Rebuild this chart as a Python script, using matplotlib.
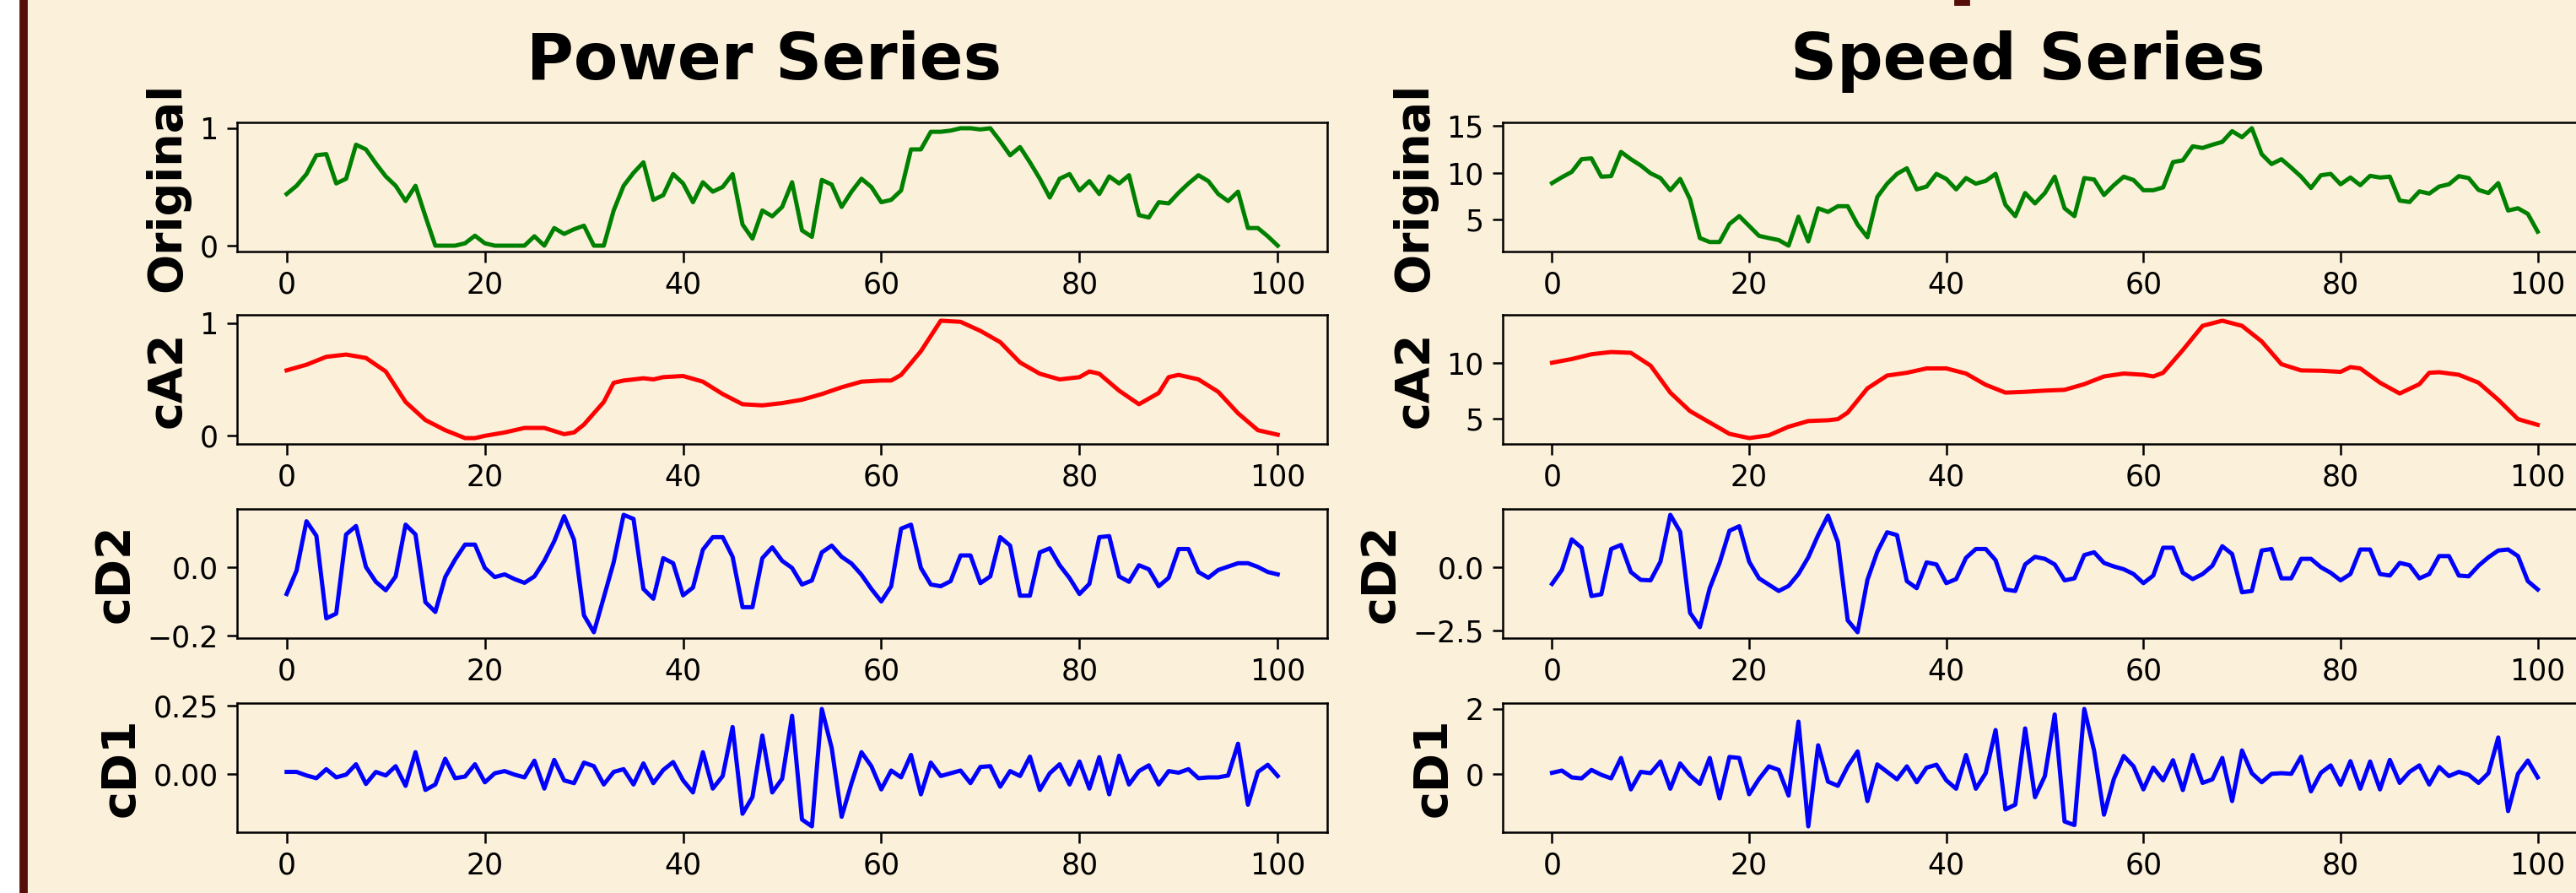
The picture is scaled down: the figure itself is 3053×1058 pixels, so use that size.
#### Wavelet decomposition panels: Power and Speed series
### Original signal, level-2 approximation (cA2) and detail coefficients (cD2, cD1)

## Import Libraries
import matplotlib
matplotlib.use("Agg") # No display in the sandbox
import matplotlib.pyplot as plt
from matplotlib.patches import Rectangle

#### Section A: Data

## Sample index shared by the original and detail series
idx = list(range(101))

## Power series (normalised 0-1)
power_orig = [0.44, 0.51, 0.61, 0.77, 0.78, 0.53, 0.57, 0.86, 0.82, 0.70,
              0.59, 0.51, 0.38, 0.51, 0.25, 0.0, 0.0, 0.0, 0.02, 0.085,
              0.02, 0.0, 0.0, 0.0, 0.0, 0.08, 0.0, 0.15, 0.10, 0.14,
              0.17, 0.0, 0.0, 0.30, 0.51, 0.62, 0.71, 0.39, 0.43, 0.61,
              0.53, 0.37, 0.54, 0.46, 0.50, 0.61, 0.18, 0.06, 0.30, 0.25,
              0.33, 0.54, 0.13, 0.075, 0.56, 0.52, 0.33, 0.46, 0.57, 0.50,
              0.37, 0.39, 0.47, 0.82, 0.82, 0.97, 0.97, 0.98, 1.0, 1.0,
              0.99, 1.0, 0.89, 0.77, 0.84, 0.71, 0.57, 0.41, 0.57, 0.61,
              0.47, 0.55, 0.44, 0.59, 0.53, 0.60, 0.26, 0.24, 0.37, 0.36,
              0.45, 0.53, 0.60, 0.55, 0.44, 0.38, 0.46, 0.15, 0.15, 0.08,
              0.0]

power_ca2_x = [0, 2, 4, 6, 8, 10, 12, 14, 16, 18,
               19, 20, 22, 24, 26, 28, 29, 30, 32, 33,
               34, 36, 37, 38, 40, 42, 44, 46, 48, 50,
               52, 54, 56, 58, 60, 61, 62, 64, 66, 68,
               70, 72, 74, 76, 78, 80, 81, 82, 84, 86,
               88, 89, 90, 92, 94, 96, 98, 100]
power_ca2 = [0.58, 0.63, 0.70, 0.72, 0.69, 0.57, 0.30, 0.14, 0.05, -0.02,
             -0.02, 0.0, 0.03, 0.07, 0.07, 0.015, 0.03, 0.10, 0.30, 0.47,
             0.49, 0.51, 0.50, 0.52, 0.53, 0.48, 0.37, 0.28, 0.27, 0.29,
             0.32, 0.37, 0.43, 0.48, 0.49, 0.49, 0.54, 0.75, 1.02, 1.01,
             0.93, 0.83, 0.65, 0.55, 0.50, 0.52, 0.57, 0.55, 0.40, 0.28,
             0.38, 0.52, 0.54, 0.50, 0.39, 0.20, 0.05, 0.01]

power_cd2 = [-0.078, -0.009, 0.137, 0.094, -0.150, -0.136, 0.098, 0.123, 0.002, -0.042,
             -0.067, -0.026, 0.127, 0.098, -0.102, -0.131, -0.028, 0.024, 0.068, 0.068,
             -0.001, -0.028, -0.020, -0.034, -0.045, -0.026, 0.020, 0.078, 0.152, 0.082,
             -0.141, -0.191, -0.088, 0.016, 0.156, 0.144, -0.063, -0.092, 0.028, 0.013,
             -0.082, -0.059, 0.053, 0.090, 0.090, 0.032, -0.117, -0.117, 0.028, 0.060,
             0.020, -0.001, -0.050, -0.038, 0.045, 0.065, 0.032, 0.012, -0.021, -0.063,
             -0.100, -0.055, 0.115, 0.127, -0.001, -0.050, -0.055, -0.040, 0.036, 0.036,
             -0.046, -0.026, 0.090, 0.065, -0.083, -0.083, 0.045, 0.057, 0.007, -0.031,
             -0.078, -0.048, 0.090, 0.093, -0.026, -0.042, 0.007, -0.005, -0.055, -0.030,
             0.055, 0.055, -0.013, -0.030, -0.007, 0.003, 0.013, 0.013, 0.002, -0.013,
             -0.020]

power_cd1 = [0.008, 0.008, -0.005, -0.015, 0.018, -0.012, -0.002, 0.036, -0.036, 0.008,
             -0.005, 0.029, -0.043, 0.080, -0.058, -0.038, 0.056, -0.015, -0.009, 0.036,
             -0.030, 0.003, 0.011, -0.002, -0.012, 0.049, -0.053, 0.052, -0.023, -0.033,
             0.042, 0.029, -0.038, 0.008, 0.018, -0.038, 0.039, -0.033, 0.015, 0.044,
             -0.023, -0.067, 0.080, -0.053, -0.007, 0.172, -0.145, -0.084, 0.141, -0.067,
             -0.017, 0.213, -0.166, -0.191, 0.238, 0.095, -0.156, -0.033, 0.080, 0.029,
             -0.056, 0.013, -0.012, 0.070, -0.074, 0.042, -0.007, 0.003, 0.013, -0.033,
             0.026, 0.029, -0.046, 0.011, -0.007, 0.064, -0.058, 0.003, 0.036, -0.038,
             0.046, -0.053, 0.062, -0.074, 0.067, -0.038, 0.011, 0.032, -0.038, 0.011,
             0.005, 0.018, -0.015, -0.012, -0.012, -0.005, 0.111, -0.112, 0.008, 0.034,
             -0.007]

## Speed series
speed_orig = [8.89, 9.52, 10.09, 11.45, 11.54, 9.58, 9.64, 12.23, 11.45, 10.78,
              9.94, 9.43, 8.13, 9.34, 7.17, 3.01, 2.59, 2.59, 4.52, 5.36,
              4.31, 3.25, 3.01, 2.80, 2.20, 5.30, 2.65, 6.20, 5.81, 6.42,
              6.42, 4.46, 3.10, 7.41, 8.83, 9.88, 10.48, 8.22, 8.52, 9.88,
              9.34, 8.22, 9.43, 8.83, 9.13, 9.88, 6.57, 5.36, 7.83, 6.72,
              7.83, 9.58, 6.20, 5.36, 9.43, 9.28, 7.62, 8.67, 9.58, 9.22,
              8.13, 8.13, 8.43, 11.14, 11.33, 12.83, 12.65, 13.0, 13.3, 14.45,
              13.8, 14.76, 11.99, 10.93, 11.45, 10.54, 9.58, 8.37, 9.73, 9.88,
              8.77, 9.49, 8.67, 9.67, 9.49, 9.58, 7.02, 6.87, 8.01, 7.77,
              8.52, 8.77, 9.64, 9.43, 8.16, 7.83, 8.89, 5.96, 6.20, 5.60,
              3.70]

speed_ca2_x = [0, 2, 4, 6, 8, 10, 12, 14, 16, 18,
               20, 22, 24, 26, 28, 29, 30, 32, 34, 36,
               38, 40, 42, 44, 46, 48, 50, 52, 54, 56,
               58, 60, 61, 62, 64, 66, 68, 70, 72, 74,
               76, 78, 80, 81, 82, 84, 86, 88, 89, 90,
               92, 94, 96, 98, 100]
speed_ca2 = [10.03, 10.36, 10.79, 10.99, 10.92, 9.77, 7.35, 5.69, 4.67, 3.65,
             3.27, 3.52, 4.29, 4.80, 4.87, 4.97, 5.56, 7.73, 8.88, 9.13,
             9.52, 9.52, 9.06, 8.05, 7.35, 7.42, 7.53, 7.60, 8.11, 8.80,
             9.06, 8.95, 8.80, 9.13, 11.17, 13.34, 13.80, 13.34, 11.94, 9.90,
             9.34, 9.31, 9.21, 9.64, 9.52, 8.24, 7.27, 8.11, 9.13, 9.18,
             8.95, 8.24, 6.71, 4.97, 4.46]

speed_cd2 = [-0.65, -0.10, 1.11, 0.78, -1.13, -1.06, 0.73, 0.89, -0.18, -0.49,
             -0.51, 0.23, 2.08, 1.41, -1.79, -2.36, -0.82, 0.18, 1.45, 1.63,
             0.23, -0.43, -0.68, -0.93, -0.73, -0.26, 0.40, 1.28, 2.05, 1.00,
             -2.09, -2.56, -0.49, 0.62, 1.39, 1.28, -0.54, -0.82, 0.20, 0.12,
             -0.62, -0.46, 0.38, 0.73, 0.73, 0.29, -0.87, -0.93, 0.12, 0.42,
             0.34, 0.12, -0.51, -0.43, 0.49, 0.60, 0.18, 0.04, -0.07, -0.26,
             -0.62, -0.32, 0.78, 0.78, -0.21, -0.46, -0.26, 0.07, 0.84, 0.53,
             -0.98, -0.93, 0.67, 0.73, -0.43, -0.43, 0.34, 0.34, 0.01, -0.21,
             -0.51, -0.26, 0.71, 0.71, -0.26, -0.32, 0.18, 0.09, -0.43, -0.26,
             0.45, 0.45, -0.32, -0.35, 0.07, 0.40, 0.67, 0.71, 0.45, -0.54,
             -0.87]

speed_cd1 = [0.03, 0.10, -0.11, -0.14, 0.12, -0.03, -0.14, 0.49, -0.48, 0.06,
             0.02, 0.38, -0.46, 0.32, -0.05, -0.31, 0.49, -0.76, 0.52, 0.49,
             -0.63, -0.16, 0.23, 0.12, -0.67, 1.61, -1.62, 0.88, -0.24, -0.37,
             0.23, 0.69, -0.84, 0.29, 0.06, -0.17, 0.23, -0.26, 0.19, 0.28,
             -0.20, -0.46, 0.58, -0.46, 0.02, 1.35, -1.10, -0.95, 1.40, -0.72,
             -0.07, 1.83, -1.47, -1.58, 2.0, 0.71, -1.26, -0.16, 0.55, 0.23,
             -0.48, 0.19, -0.20, 0.42, -0.50, 0.58, -0.28, -0.17, 0.49, -0.84,
             0.72, 0.02, -0.26, 0.0, 0.02, 0.0, 0.53, -0.54, 0.03, 0.26,
             -0.34, 0.39, -0.46, 0.38, -0.48, 0.43, -0.28, 0.06, 0.26, -0.33,
             0.21, -0.07, 0.06, -0.03, -0.28, 0.02, 1.12, -1.15, 0.0, 0.41,
             -0.11]

## Labels and ticks
row_labels = ["Original", "cA2", "cD2", "cD1"]
col_titles = ["Power Series", "Speed Series"]
power_yticks = [[0, 1], [0, 1], [-0.2, 0.0], [0.0, 0.25]]
speed_yticks = [[5, 10, 15], [5, 10], [-2.5, 0.0], [0, 2]]
xticks = [0, 20, 40, 60, 80, 100]

#### Section B: Figure

## Style
bg = "#FBF0D9" # parchment
plt.rcParams["font.family"] = "DejaVu Sans"
plt.rcParams["axes.linewidth"] = 0.9
plt.rcParams["xtick.major.width"] = 0.9
plt.rcParams["ytick.major.width"] = 0.9
plt.rcParams["xtick.major.size"] = 4.5
plt.rcParams["ytick.major.size"] = 4.5

fig = plt.figure(figsize = (15.265, 5.29), dpi = 200, facecolor = bg)

## Page decoration: white margin, maroon rule and a clipped mark at the top
fig.patches.append(Rectangle((0, 0), 24 / 3053, 1, transform = fig.transFigure, color = "white", zorder = 0))
fig.patches.append(Rectangle((24 / 3053, 0), 7 / 3053, 1, transform = fig.transFigure, color = "#550F08", zorder = 0))
fig.patches.append(Rectangle((2317 / 3053, 1 - 5 / 1058), 16 / 3053, 5 / 1058, transform = fig.transFigure, color = "#550F08", zorder = 0))

## Axes grid (left, bottom in figure fractions)
col_left = [281 / 3053, 1781 / 3053]
col_width = [1292 / 3053, 1285 / 3053]
row_bottom = [1 - 298 / 1058, 1 - 526 / 1058, 1 - 756 / 1058, 1 - 986 / 1058]
row_height = 153 / 1058

cols = [
    [(idx, power_orig, "green"), (power_ca2_x, power_ca2, "red"), (idx, power_cd2, "blue"), (idx, power_cd1, "blue")],
    [(idx, speed_orig, "green"), (speed_ca2_x, speed_ca2, "red"), (idx, speed_cd2, "blue"), (idx, speed_cd1, "blue")],
]
yticks = [power_yticks, speed_yticks]

for c in range(2):
    for r in range(4):
        ax = fig.add_axes([col_left[c], row_bottom[r], col_width[c], row_height])
        ax.set_facecolor("none") # let the parchment show through
        xs, ys, colr = cols[c][r]
        ax.plot(xs, ys, color = colr, linewidth = 1.8)
        ax.set_xticks(xticks)
        ax.set_yticks(yticks[c][r])
        ax.tick_params(labelsize = 12.5)
        ax.set_ylabel(row_labels[r], fontsize = 20, fontweight = "bold")

## Column titles
fig.text(906 / 3053, 1 - 94 / 1058, col_titles[0], ha = "center", va = "baseline", fontsize = 27.5, fontweight = "bold")
fig.text(2403 / 3053, 1 - 94 / 1058, col_titles[1], ha = "center", va = "baseline", fontsize = 27.5, fontweight = "bold")

fig.savefig("out.png", dpi = 200, facecolor = fig.get_facecolor())
